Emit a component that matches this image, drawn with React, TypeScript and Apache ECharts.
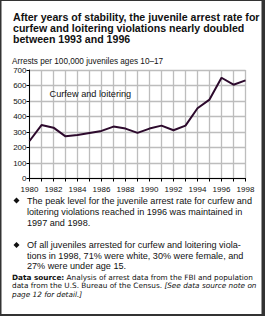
import React, { useEffect, useRef } from "react";
import * as echarts from "echarts";

const years = ["1980","1981","1982","1983","1984","1985","1986","1987","1988","1989","1990","1991","1992","1993","1994","1995","1996","1997","1998"];
const rates = [242, 345, 328, 272, 281, 294, 307, 335, 322, 294, 322, 341, 311, 341, 453, 509, 650, 605, 633];
const yTicks = [0, 100, 200, 300, 400, 500, 600, 700];

const titleLines = [
  "After years of stability, the juvenile arrest rate for",
  "curfew and loitering violations nearly doubled",
  "between 1993 and 1996",
];
const subtitle = "Arrests per 100,000 juveniles ages 10–17";
const seriesLabel = "Curfew and loitering";
const seriesLabelAt = ["1982", 545];
const bullet1 = [
  "The peak level for the juvenile arrest rate for curfew and",
  "loitering violations reached in 1996 was maintained in",
  "1997 and 1998.",
];
const bullet2 = [
  "Of all juveniles arrested for curfew and loitering viola-",
  "tions in 1998, 71% were white, 30% were female, and",
  "27% were under age 15.",
];

const FONT = "'Liberation Sans', Arial, Helvetica, sans-serif";
const SRC_FONT = "'DejaVu Sans', 'Liberation Sans', Arial, sans-serif";
const INK = "#111";
const SRC = 7.3;

function textLines(lines: string[], x: number, y0: number, step: number, size: number, weight = "normal") {
  return lines.map((t, i) => ({
    type: "text",
    x,
    y: y0 + i * step,
    style: { text: t, fontFamily: FONT, fontSize: size, fontWeight: weight, fill: INK, textVerticalAlign: "middle" },
  }));
}

function diamond(cx: number, cy: number, r: number) {
  return {
    type: "polygon",
    shape: { points: [[cx, cy - r], [cx + r, cy], [cx, cy + r], [cx - r, cy]] },
    style: { fill: INK },
  };
}

export default function App() {
  const ref = useRef<HTMLDivElement>(null);

  useEffect(() => {
    if (!ref.current) return;
    const chart = echarts.init(ref.current, null, { renderer: "svg" });
    const staticGraphics: any[] = [
      ...textLines(titleLines, 13, 17, 11, 10.6, "bold"),
      ...textLines([subtitle], 12, 61.5, 0, 8.2),
      diamond(16.5, 200.5, 3),
      ...textLines(bullet1, 27, 200.5, 11, 9.1),
      diamond(16.5, 245, 3),
      ...textLines(bullet2, 27, 245, 10.5, 9.1),
      {
        type: "text",
        x: 12,
        y: 277,
        style: {
          text: "{b|Data source:} Analysis of arrest data from the FBI and population",
          fontFamily: SRC_FONT,
          fontSize: SRC,
          fill: INK,
          textVerticalAlign: "middle",
          rich: { b: { fontWeight: "bold", fontFamily: SRC_FONT, fontSize: SRC, fill: INK } },
        },
      },
      {
        type: "text",
        x: 12,
        y: 285.5,
        style: {
          text: "data from the U.S. Bureau of the Census. {i|[See data source note on}",
          fontFamily: SRC_FONT,
          fontSize: SRC,
          fill: INK,
          textVerticalAlign: "middle",
          rich: { i: { fontStyle: "italic", fontFamily: SRC_FONT, fontSize: SRC, fill: INK } },
        },
      },
      {
        type: "text",
        x: 12,
        y: 294,
        style: {
          text: "page 12 for detail.]",
          fontFamily: SRC_FONT,
          fontSize: SRC,
          fontStyle: "italic",
          fill: INK,
          textVerticalAlign: "middle",
        },
      },
      // frame with heavier right and bottom edges
      { type: "rect", shape: { x: 0, y: 0, width: 265, height: 1 }, style: { fill: "#333" } },
      { type: "rect", shape: { x: 0, y: 0, width: 1.5, height: 316 }, style: { fill: "#333" } },
      { type: "rect", shape: { x: 261.5, y: 0, width: 3.5, height: 316 }, style: { fill: "#333" } },
      { type: "rect", shape: { x: 0, y: 314, width: 265, height: 2 }, style: { fill: "#333" } },
    ];
    chart.setOption({
      animation: false,
      backgroundColor: "#fff",
      grid: { left: 29.5, right: 19.5, top: 70, bottom: 137.5, containLabel: false },
      xAxis: {
        type: "category",
        data: years,
        boundaryGap: false,
        axisLine: { show: true, lineStyle: { color: "#000", width: 1 } },
        axisTick: { show: true, inside: false, length: 3, interval: 0, lineStyle: { color: "#000" } },
        axisLabel: { interval: 1, fontFamily: FONT, fontSize: 8, color: INK, margin: 7 },
        splitLine: { show: true, interval: 0, lineStyle: { color: "#bdbdbd", width: 1.3 } },
      },
      yAxis: {
        type: "value",
        min: yTicks[0],
        max: yTicks[yTicks.length - 1],
        interval: 100,
        axisLine: { show: true, lineStyle: { color: "#000", width: 1 } },
        axisTick: { show: true, inside: false, length: 3, lineStyle: { color: "#000" } },
        axisLabel: { fontFamily: FONT, fontSize: 8, color: INK, margin: 3 },
        splitLine: { show: true, lineStyle: { color: "#bdbdbd", width: 1.3 } },
      },
      series: [
        {
          type: "line",
          data: rates,
          symbol: "none",
          lineStyle: { color: "#2d0a2d", width: 2 },
          z: 5,
        },
      ],
      graphic: staticGraphics,
    });

    // Series name placed in data coordinates above the early years
    const [lx, ly] = chart.convertToPixel({ gridIndex: 0 }, seriesLabelAt) as number[];
    chart.setOption({
      graphic: [
        ...staticGraphics,
        {
          type: "text",
          x: lx - 4,
          y: ly,
          style: {
            text: seriesLabel,
            fontFamily: FONT,
            fontSize: 9.2,
            fill: INK,
            textVerticalAlign: "middle",
          },
          z: 10,
        },
      ],
    });
    return () => chart.dispose();
  }, []);

  return (
    <div
      ref={ref}
      style={{ position: "absolute", left: 0, top: 0, width: 265, height: 316 }}
    />
  );
}
